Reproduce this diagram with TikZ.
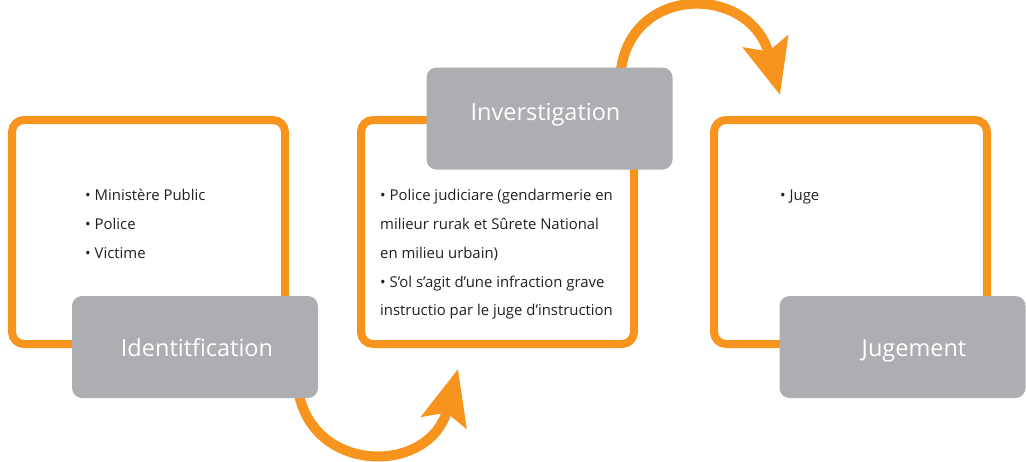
\documentclass[tikz,border=0pt]{standalone}
\usepackage{fontspec}
\setmainfont{Open Sans}
\usetikzlibrary{arrows.meta,calc}
\definecolor{orng}{HTML}{F7941D}
\definecolor{gry}{HTML}{ADAEB1}
\definecolor{txt}{HTML}{231F20}
\pgfdeclarelayer{bg}
\pgfsetlayers{bg,main}
\begin{document}
\begin{tikzpicture}[x=1pt,y=-1pt,
 frame/.style={draw=orng,line width=8pt,rounded corners=12pt,minimum width=273pt,minimum height=224pt,inner sep=0pt},
 tag/.style={fill=gry,rounded corners=10pt,minimum width=246pt,minimum height=102pt,inner sep=0pt},
 tagtext/.style={anchor=base,inner sep=0pt,text=white,font=\fontsize{23.5}{28}\selectfont},
 item/.style={anchor=base west,inner sep=0pt,text=txt,font=\fontsize{14.9}{18}\selectfont},
 curve/.style={draw=orng,line width=10pt,-{Stealth[length=55pt,width=46pt,inset=10pt]}}
]
\useasboundingbox (0,0) rectangle (1026,461);
% orange frames
\node[frame] (f1) at (148.5,232) {};
\node[frame] (f2) at (497.5,232) {};
\node[frame] (f3) at (850.5,232) {};
% grey tags
\node[tag] (ident) at (195,347) {};
\node[tag] (inv) at (549.5,118.5) {};
\node[tag] (jug) at (902.5,347) {};
\node[tagtext] (identl) at (197,356) {Identitfication};
\node[tagtext] (invl) at (545.5,120) {Inverstigation};
\node[tagtext] (jugl) at (914,356) {Jugement};
% arrow end points
\coordinate (t1) at (458,369);
\coordinate (t2) at (780,95);
\begin{pgfonlayer}{bg}
\draw[curve] ($(ident.south east)+(-20,-8)$) .. controls (312,475) and (430,475) .. (t1);
\draw[curve] ($(inv.north east)+(-52,5)$) .. controls (630,-16) and (750,-16) .. (t2);
\end{pgfonlayer}
% items
\node[item] (a1) at (85,200) {\textbullet\ Ministère Public};
\node[item] (a2) at (85,229) {\textbullet\ Police};
\node[item] (a3) at (85,258) {\textbullet\ Victime};
\node[item] (b1) at (380,200) {\textbullet\ Police judiciare (gendarmerie en};
\node[item] (b2) at (380,229) {milieur rurak et Sûrete National};
\node[item] (b3) at (380,258) {en milieu urbain)};
\node[item] (b4) at (380,287) {\textbullet\ S’ol s’agit d’une infraction grave};
\node[item] (b5) at (380,315) {instructio par le juge d’instruction};
\node[item] (c1) at (780,200) {\textbullet\ Juge};
\end{tikzpicture}
\end{document}
